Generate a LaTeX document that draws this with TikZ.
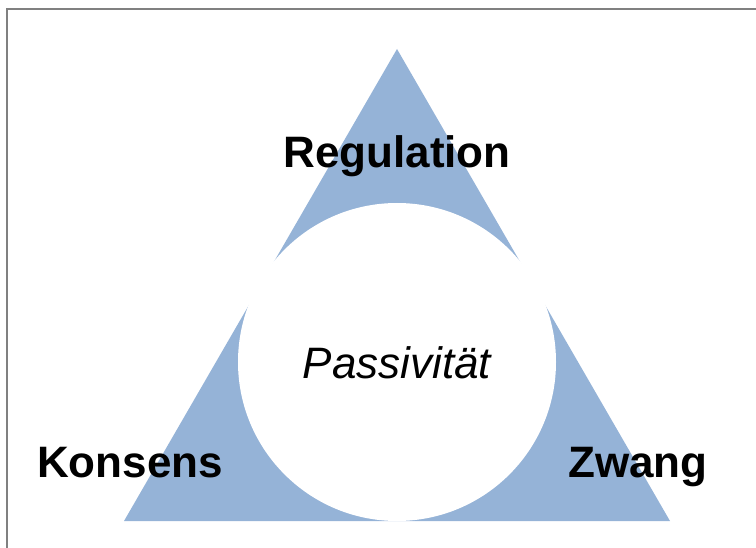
\documentclass[tikz,border=0pt]{standalone}
\usepackage{fontspec}
\setmainfont{Liberation Sans}
\usetikzlibrary{positioning}
\definecolor{triblue}{HTML}{95B3D7}
\definecolor{framegray}{HTML}{808080}

\begin{document}
\begin{tikzpicture}[x=1pt, y=1pt,
    cornerlabel/.style={font=\fontsize{44}{50}\selectfont\bfseries, anchor=base, inner sep=0pt},
    hole/.style={circle, fill=white, minimum size=318pt, inner sep=0pt},
    holelabel/.style={font=\fontsize{44}{50}\selectfont\itshape, inner sep=0pt}
  ]
  \useasboundingbox (0,0) rectangle (756,547);
  \clip (0,0) rectangle (756,547);
  % frame, only the left and top edges are inside the page
  \draw[framegray, line width=2pt] (7,-10) rectangle (780,537.5);
  % triangle
  \coordinate (apex) at (397,498);
  \coordinate (baseleft) at (124,26);
  \coordinate (baseright) at (670,26);
  \fill[triblue] (baseleft) -- (baseright) -- (apex) -- cycle;
  % white circle in the middle
  \node[hole] (passiv) at (397,185) {};
  \node[holelabel, below=-16pt of passiv.center] (passivtext) {Passivität};
  % labels of the three corners
  \node[cornerlabel] (regulation) at (397,379) {Regulation};
  \node[cornerlabel] (konsens) at (130,70) {Konsens};
  \node[cornerlabel] (zwang) at (638,70) {Zwang};
\end{tikzpicture}
\end{document}
